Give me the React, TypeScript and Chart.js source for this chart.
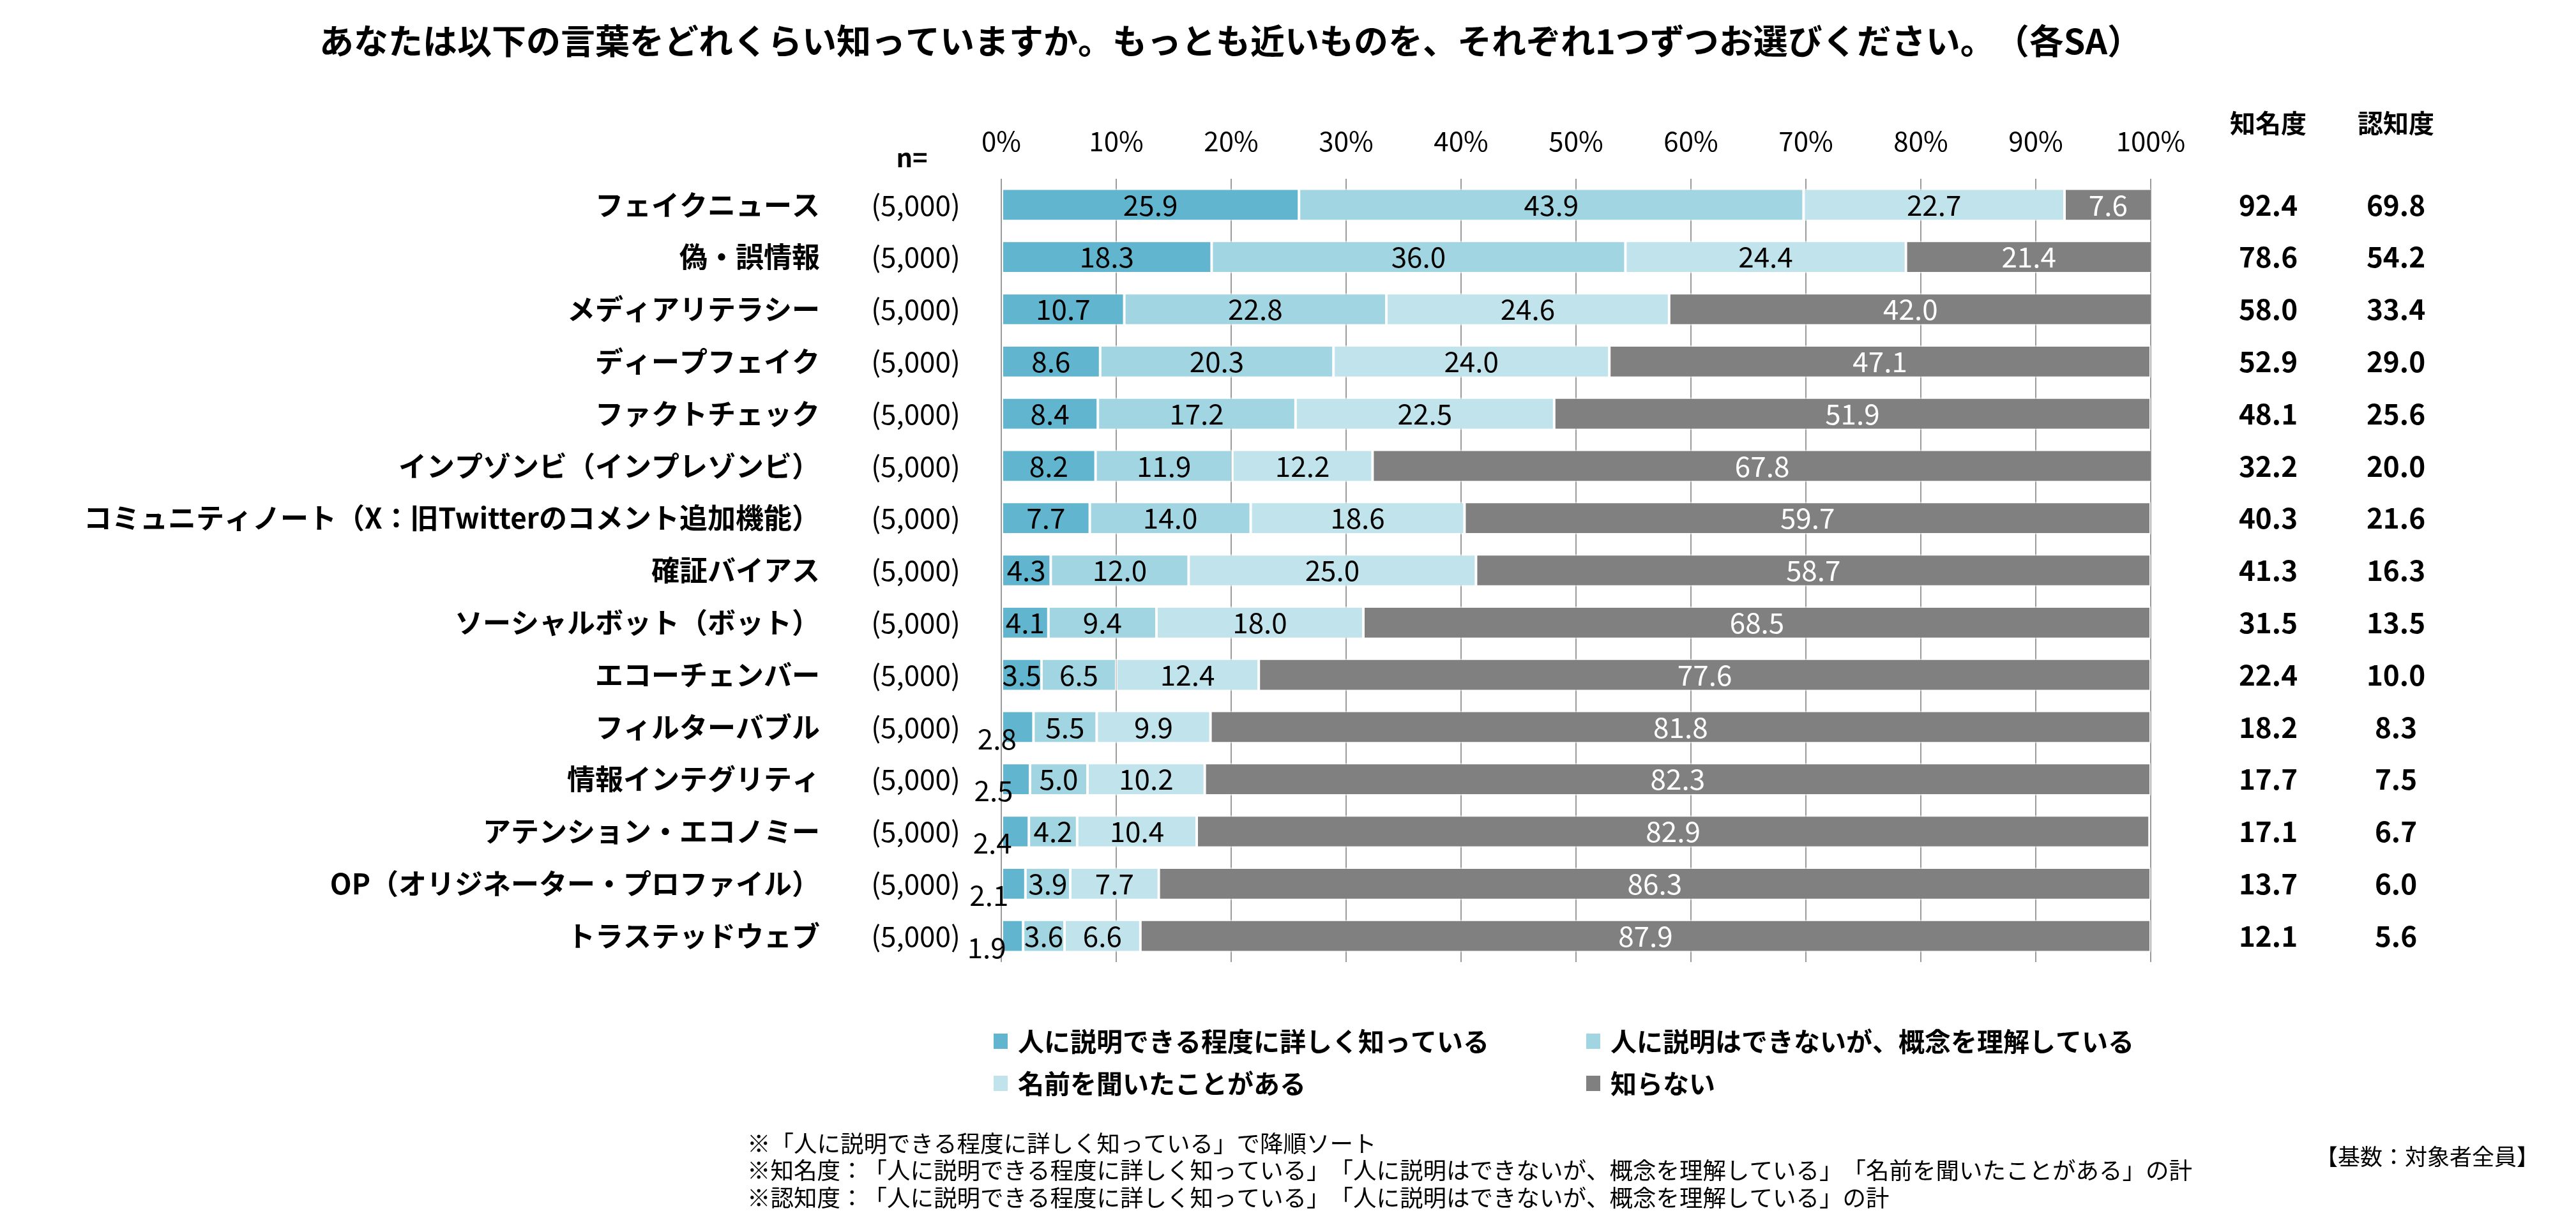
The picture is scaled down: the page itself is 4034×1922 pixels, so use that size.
import React, { useEffect, useRef } from "react";
import { Chart, registerables } from "chart.js";

Chart.register(...registerables);

const categories = [
  "フェイクニュース",
  "偽・誤情報",
  "メディアリテラシー",
  "ディープフェイク",
  "ファクトチェック",
  "インプゾンビ（インプレゾンビ）",
  "コミュニティノート（X：旧Twitterのコメント追加機能）",
  "確証バイアス",
  "ソーシャルボット（ボット）",
  "エコーチェンバー",
  "フィルターバブル",
  "情報インテグリティ",
  "アテンション・エコノミー",
  "OP（オリジネーター・プロファイル）",
  "トラステッドウェブ",
];

const sampleSizes = [5000, 5000, 5000, 5000, 5000, 5000, 5000, 5000, 5000, 5000, 5000, 5000, 5000, 5000, 5000];

const explainable = [25.9, 18.3, 10.7, 8.6, 8.4, 8.2, 7.7, 4.3, 4.1, 3.5, 2.8, 2.5, 2.4, 2.1, 1.9];
const understand = [43.9, 36.0, 22.8, 20.3, 17.2, 11.9, 14.0, 12.0, 9.4, 6.5, 5.5, 5.0, 4.2, 3.9, 3.6];
const heardOf = [22.7, 24.4, 24.6, 24.0, 22.5, 12.2, 18.6, 25.0, 18.0, 12.4, 9.9, 10.2, 10.4, 7.7, 6.6];
const unknown = [7.6, 21.4, 42.0, 47.1, 51.9, 67.8, 59.7, 58.7, 68.5, 77.6, 81.8, 82.3, 82.9, 86.3, 87.9];

const nameRecognition = [92.4, 78.6, 58.0, 52.9, 48.1, 32.2, 40.3, 41.3, 31.5, 22.4, 18.2, 17.7, 17.1, 13.7, 12.1];
const conceptRecognition = [69.8, 54.2, 33.4, 29.0, 25.6, 20.0, 21.6, 16.3, 13.5, 10.0, 8.3, 7.5, 6.7, 6.0, 5.6];

const seriesNames = [
  "人に説明できる程度に詳しく知っている",
  "人に説明はできないが、概念を理解している",
  "名前を聞いたことがある",
  "知らない",
];
const seriesColors = ["#62B5CE", "#A2D5E2", "#C0E3EC", "#808080"];
const labelColors = ["#000000", "#000000", "#000000", "#FFFFFF"];

const titleText =
  "あなたは以下の言葉をどれくらい知っていますか。もっとも近いものを、それぞれ1つずつお選びください。（各SA）";
const sideHeaders = ["知名度", "認知度"];
const footnotes = [
  "※「人に説明できる程度に詳しく知っている」で降順ソート",
  "※知名度：「人に説明できる程度に詳しく知っている」「人に説明はできないが、概念を理解している」「名前を聞いたことがある」の計",
  "※認知度：「人に説明できる程度に詳しく知っている」「人に説明はできないが、概念を理解している」の計",
];
const baseNote = "【基数：対象者全員】";

const FONT = '"Noto Sans CJK JP", "Noto Sans", sans-serif';

// draws text glyph by glyph so that adjacent full-width punctuation keeps its full width
function drawSpaced(ctx: CanvasRenderingContext2D, text: string, x: number, y: number, align: "left" | "center" | "right") {
  const chars = Array.from(text);
  const widths = chars.map((c) => ctx.measureText(c).width);
  const total = widths.reduce((a, b) => a + b, 0);
  let cx = align === "left" ? x : align === "center" ? x - total / 2 : x - total;
  const prevAlign = ctx.textAlign;
  ctx.textAlign = "left";
  chars.forEach((c, i) => {
    ctx.fillText(c, cx, y);
    cx += widths[i];
  });
  ctx.textAlign = prevAlign;
}

const overlayPlugin = {
  id: "overlay",
  afterDatasetsDraw(chart: any) {
    const ctx = chart.ctx;
    ctx.save();
    ctx.font = `normal 44px ${FONT}`;
    ctx.textAlign = "center";
    ctx.textBaseline = "middle";
    chart.data.datasets.forEach((ds: any, di: number) => {
      const meta = chart.getDatasetMeta(di);
      meta.data.forEach((el: any, i: number) => {
        const v = ds.data[i] as number;
        const p = el.getProps(["x", "base", "y"], true);
        let cx = (p.x + p.base) / 2;
        let cy = p.y;
        ctx.fillStyle = labelColors[di];
        if (v < 3) {
          cx = p.x - 57;
          cy = p.y + 18;
          ctx.fillStyle = "#000000";
        }
        ctx.fillText(v.toFixed(1), cx, cy);
      });
    });
    ctx.restore();
  },
  afterDraw(chart: any) {
    const ctx = chart.ctx;
    const yScale = chart.scales.y;
    const xScale = chart.scales.x;
    ctx.save();
    ctx.textBaseline = "middle";
    ctx.fillStyle = "#000000";

    // title
    ctx.font = `bold 54px ${FONT}`;
    drawSpaced(ctx, titleText, 1927, 64, "center");

    // x tick labels (percent axis on top)
    ctx.textAlign = "center";
    ctx.font = `normal 42px ${FONT}`;
    xScale.ticks.forEach((t: any) => {
      ctx.fillText(`${t.value}%`, xScale.getPixelForValue(t.value), 221);
    });

    // n column
    ctx.font = `bold 40px ${FONT}`;
    ctx.fillText("n=", 1428, 247);
    ctx.font = `normal 44px ${FONT}`;
    sampleSizes.forEach((n, i) => {
      const y = yScale.getPixelForValue(i);
      ctx.fillText(`(${n.toLocaleString("en-US")})`, 1434, y);
    });

    // side columns
    ctx.font = `bold 40px ${FONT}`;
    ctx.fillText(sideHeaders[0], 3552, 193);
    ctx.fillText(sideHeaders[1], 3752, 193);
    ctx.font = `bold 44px ${FONT}`;
    nameRecognition.forEach((v, i) => {
      const y = yScale.getPixelForValue(i);
      ctx.fillText(v.toFixed(1), 3552, y);
      ctx.fillText(conceptRecognition[i].toFixed(1), 3752, y);
    });

    // legend
    const legendPos = [
      [1556, 1631],
      [2484, 1631],
      [1556, 1697],
      [2484, 1697],
    ];
    ctx.font = `bold 41px ${FONT}`;
    ctx.textAlign = "left";
    seriesNames.forEach((name, i) => {
      const [lx, ly] = legendPos[i];
      ctx.fillStyle = seriesColors[i];
      ctx.fillRect(lx, ly - 12, 22, 24);
      ctx.fillStyle = "#000000";
      drawSpaced(ctx, name, lx + 38, ly, "left");
    });

    // footnotes
    ctx.font = `normal 36.5px ${FONT}`;
    const noteY = [1791, 1833, 1876];
    footnotes.forEach((t, i) => {
      drawSpaced(ctx, t, 1170, noteY[i], "left");
    });
    ctx.font = `normal 35px ${FONT}`;
    drawSpaced(ctx, baseNote, 3976, 1812, "right");

    ctx.restore();
  },
};

export default function App() {
  const canvasRef = useRef<HTMLCanvasElement | null>(null);

  useEffect(() => {
    document.body.style.margin = "0";
    const canvas = canvasRef.current;
    if (!canvas) return;
    const datasetValues = [explainable, understand, heardOf, unknown];
    const chart = new Chart(canvas, {
      type: "bar",
      data: {
        labels: categories,
        datasets: datasetValues.map((vals, i) => ({
          label: seriesNames[i],
          data: vals,
          backgroundColor: seriesColors[i],
          borderColor: "rgba(255,255,255,0.55)",
          borderWidth: 2,
          borderSkipped: false,
          barPercentage: 0.62,
          categoryPercentage: 1.0,
        })),
      },
      options: {
        indexAxis: "y",
        responsive: false,
        devicePixelRatio: 1,
        animation: false,
        layout: {
          padding: { left: 0, right: 666, top: 280, bottom: 415 },
        },
        plugins: {
          legend: { display: false },
          title: { display: false },
          tooltip: { enabled: false },
        },
        scales: {
          x: {
            position: "top",
            stacked: true,
            min: 0,
            max: 100,
            ticks: {
              stepSize: 10,
              display: false,
            },
            grid: {
              color: "#9A9A9A",
              lineWidth: 2,
              drawTicks: false,
            },
            border: { display: false },
          },
          y: {
            stacked: true,
            ticks: {
              color: "#000000",
              font: { family: FONT, size: 44, weight: "bold" },
              padding: 284,
              autoSkip: false,
            },
            grid: { display: false, drawTicks: false },
            border: { display: false },
            afterFit: (scale: any) => {
              scale.width = 1568;
              scale.paddingTop = 0;
              scale.paddingBottom = 0;
            },
          },
        },
      },
      plugins: [overlayPlugin],
    });
    return () => chart.destroy();
  }, []);

  return (
    <div style={{ width: 4034, height: 1922, background: "#ffffff" }}>
      <canvas ref={canvasRef} width={4034} height={1922} style={{ display: "block" }} />
    </div>
  );
}
